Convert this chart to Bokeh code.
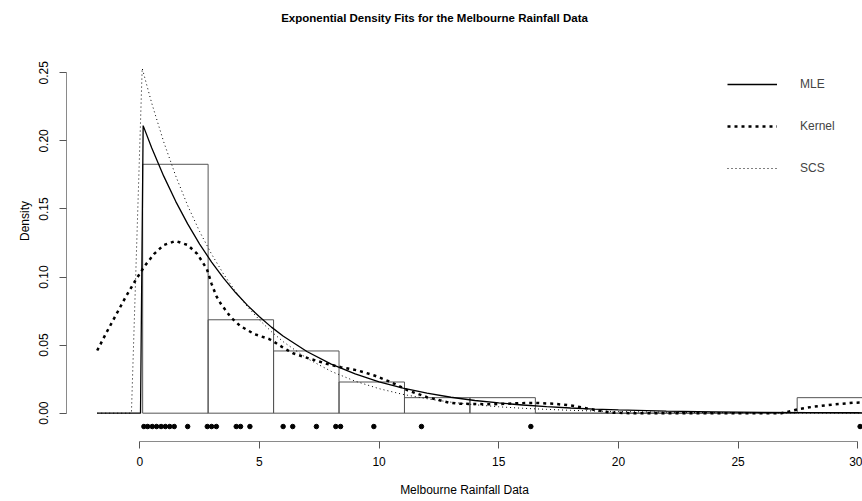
from bokeh.plotting import figure
from bokeh.models import (Range1d, FixedTicker, NumeralTickFormatter, Legend,
                          LegendItem, Label)
from bokeh.embed import file_html
from bokeh.resources import INLINE

# ---------------- data ----------------
title_text = "Exponential Density Fits for the Melbourne Rainfall Data"
x_label = "Melbourne Rainfall Data"
y_label = "Density"
x_ticks = [0, 5, 10, 15, 20, 25, 30]
y_ticks = [0.0, 0.05, 0.10, 0.15, 0.20, 0.25]

bin_edges = [0.12, 2.855, 5.59, 8.325, 11.06, 13.795, 16.53, 19.265, 22.0,
             24.735, 27.47, 30.205]
bin_density = [0.1828, 0.0686, 0.0457, 0.0229, 0.0114, 0.0114, 0.0, 0.0, 0.0,
               0.0, 0.0114]

rug_x = [0.17, 0.33, 0.52, 0.70, 0.89, 1.07, 1.25, 1.44, 2.0, 2.82, 3.0, 3.2,
         4.03, 4.21, 4.6, 5.99, 6.39, 7.38, 8.19, 8.39, 9.78, 11.77, 16.34,
         30.1]
rug_level = -0.0098

mle_x = [-1.78, 0.03, 0.14, 0.5, 1.0, 1.5, 2.0, 2.5, 3.0, 3.5, 4.0, 4.5, 5.0,
         5.5, 6.0, 7.0, 8.0, 9.0, 10.0, 11.0, 12.0, 13.0, 14.0, 15.0, 16.0,
         17.0, 18.0, 19.0, 20.0, 22.0, 24.0, 26.0, 28.0, 30.0, 32.0]
mle_y = [0.0, 0.0, 0.2112, 0.1948, 0.1741, 0.1556, 0.1390, 0.1242, 0.1110,
         0.0992, 0.0886, 0.0792, 0.0708, 0.0632, 0.0565, 0.0451, 0.0360,
         0.0288, 0.0230, 0.0184, 0.0147, 0.0117, 0.0093, 0.0075, 0.0060,
         0.0048, 0.0038, 0.0030, 0.0024, 0.0015, 0.0010, 0.0006, 0.0004,
         0.0003, 0.0002]

kern_x = [-1.78, -1.4, -1.0, -0.6, -0.2, 0.2, 0.6, 1.0, 1.5, 2.0, 2.4, 2.8,
          3.0, 3.2, 3.4, 3.8, 4.2, 4.8, 5.4, 5.6, 6.0, 6.4, 7.1, 7.8, 8.4,
          9.1, 9.8, 10.5, 11.2, 12.0, 12.9, 13.4, 13.8, 14.7, 15.8, 16.5,
          17.3, 18.0, 18.5, 19.1, 19.7, 20.5, 22.0, 24.0, 26.0, 26.8, 27.05,
          27.3, 27.6, 28.2, 29.0, 29.8, 30.6]
kern_y = [0.046, 0.059, 0.072, 0.085, 0.097, 0.108, 0.117, 0.1235, 0.1265,
          0.1235, 0.117, 0.106, 0.095, 0.086, 0.080, 0.0705, 0.064, 0.058,
          0.0545, 0.0525, 0.048, 0.044, 0.040, 0.0363, 0.0338, 0.0314,
          0.0277, 0.0228, 0.0167, 0.0118, 0.0078, 0.0069, 0.0068, 0.0065,
          0.0073, 0.0076, 0.0069, 0.0057, 0.0041, 0.0021, 0.0004, 0.0, 0.0,
          0.0, 0.0, 0.0, 0.0008, 0.002, 0.0032, 0.0049, 0.0064, 0.0076,
          0.0082]

scs_x = [-1.78, -0.35, 0.1, 0.5, 1.0, 1.5, 2.0, 2.5, 3.0, 3.5, 4.0, 4.5, 5.0,
         5.5, 6.0, 7.0, 8.0, 9.0, 10.0, 11.0, 12.0, 13.0, 14.0, 15.0, 16.0,
         17.0, 18.0, 19.0, 20.0, 22.0, 24.0, 26.0, 28.0, 30.0, 32.0]
scs_y = [0.0, 0.0, 0.2533, 0.2276, 0.1992, 0.1743, 0.1525, 0.1334, 0.1168,
         0.1022, 0.0894, 0.0782, 0.0685, 0.0599, 0.0524, 0.0401, 0.0307,
         0.0235, 0.0180, 0.0138, 0.0106, 0.0081, 0.0062, 0.0047, 0.0036,
         0.0028, 0.0021, 0.0016, 0.0012, 0.0007, 0.0004, 0.0003, 0.0001,
         0.0001, 0.0]

legend_labels = ["MLE", "Kernel", "SCS"]

# ---------------- figure ----------------
FONT = "Liberation Sans"

p = figure(width=862, height=501, output_backend="svg", toolbar_location=None,
           x_range=Range1d(-3.063, 30.20), y_range=Range1d(-0.0208, 0.3031),
           min_border_left=66, min_border_right=0, min_border_top=0,
           min_border_bottom=60)
p.xgrid.visible = False
p.ygrid.visible = False
p.outline_line_color = None
p.background_fill_color = "white"
p.border_fill_color = "white"

for ax in (p.xaxis[0], p.yaxis[0]):
    ax.axis_line_color = "#8a8a8a"
    ax.major_tick_line_color = "#555555"
    ax.major_tick_out = 7
    ax.major_tick_in = 0
    ax.minor_tick_line_color = None
    ax.major_label_text_font = FONT
    ax.major_label_text_font_size = "12px"
    ax.major_label_text_color = "black"
    ax.axis_label_text_font = FONT
    ax.axis_label_text_font_size = "12px"
    ax.axis_label_text_font_style = "normal"
    ax.axis_label_text_color = "black"

xa = p.xaxis[0]
xa.ticker = FixedTicker(ticks=x_ticks)
xa.bounds = (x_ticks[0], x_ticks[-1])
xa.axis_label = x_label
xa.major_label_standoff = 8
xa.axis_label_standoff = 14

ya = p.yaxis[0]
ya.ticker = FixedTicker(ticks=y_ticks)
ya.bounds = (y_ticks[0], y_ticks[-1])
ya.formatter = NumeralTickFormatter(format="0.00")
ya.major_label_orientation = "vertical"
ya.axis_label = y_label
ya.major_label_standoff = 11
ya.axis_label_standoff = 5

# histogram
p.quad(left=bin_edges[:-1], right=bin_edges[1:], bottom=0, top=bin_density,
       fill_color=None, line_color="#555555", line_width=1)

# density curves
r_mle = p.line(mle_x, mle_y, line_color="black", line_width=1.3)
r_kern = p.line(kern_x, kern_y, line_color="black", line_width=2.5,
                line_dash="3 4")
r_scs = p.line(scs_x, scs_y, line_color="black", line_width=1,
               line_dash="1 3")

# rug of data points
p.scatter(rug_x, [rug_level] * len(rug_x), size=4.5, color="black")

legend = Legend(items=[LegendItem(label=legend_labels[0], renderers=[r_mle]),
                       LegendItem(label=legend_labels[1], renderers=[r_kern]),
                       LegendItem(label=legend_labels[2], renderers=[r_scs])],
                location=(661, 263), glyph_width=50, glyph_height=20,
                label_height=20, spacing=22, label_standoff=23, padding=0,
                margin=0, border_line_color=None, background_fill_alpha=0,
                label_text_font=FONT, label_text_font_size="12px")
p.add_layout(legend)

title = Label(x=368, y=424, x_units="screen", y_units="screen",
              text=title_text, text_align="center", text_baseline="middle",
              text_font=FONT, text_font_size="11.5px", text_font_style="bold",
              text_color="black")
p.add_layout(title)

open("out.html", "w").write(file_html(p, INLINE))
